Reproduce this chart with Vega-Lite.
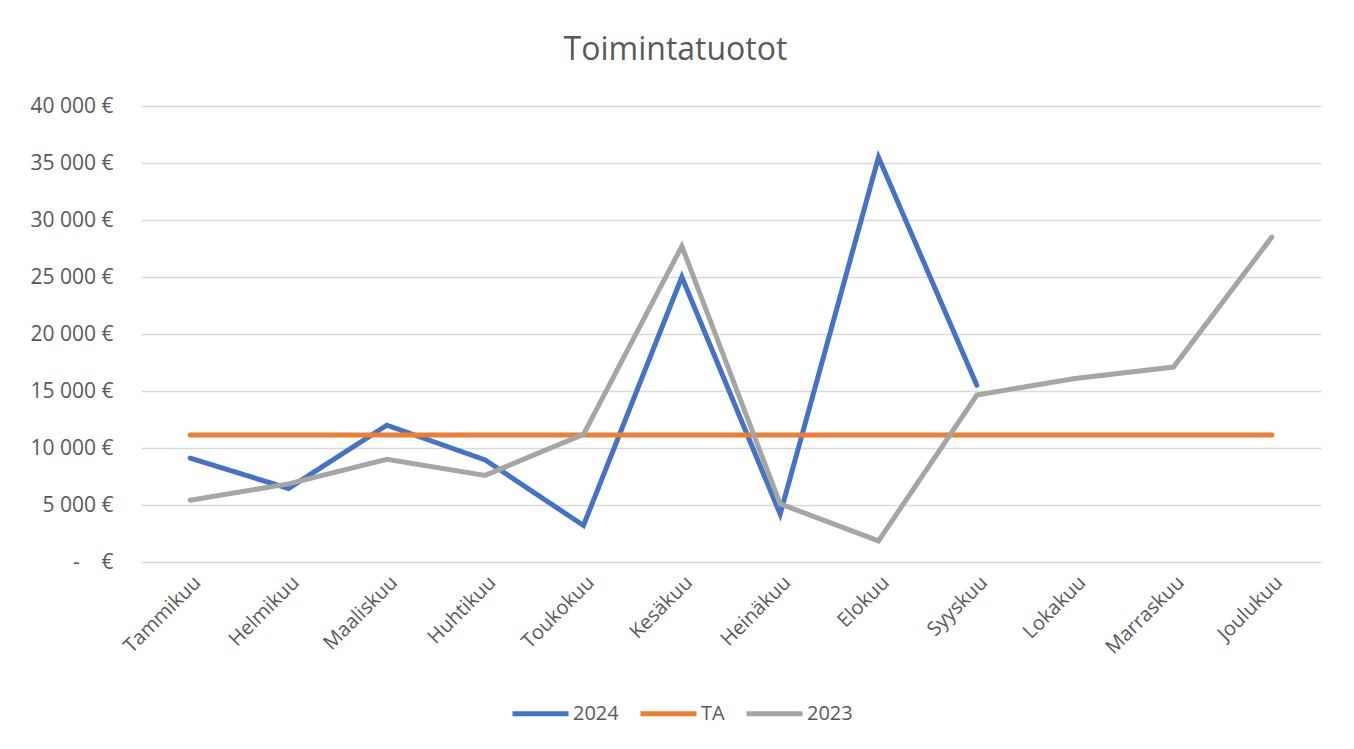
{
  "$schema": "https://vega.github.io/schema/vega-lite/v6.json",
  "autosize": "none",
  "width": 1180,
  "height": 456,
  "padding": {"left": 141, "top": 106, "right": 33, "bottom": 187},
  "background": "white",
  "title": {
    "text": "Toimintatuotot",
    "anchor": "middle",
    "frame": "bounds",
    "fontSize": 32,
    "font": "Open Sans",
    "fontWeight": "normal",
    "color": "#595959",
    "offset": 28
  },
  "data": {
    "values": [
      {"month": "Tammikuu", "series": "2024", "value": 9120},
      {"month": "Helmikuu", "series": "2024", "value": 6450},
      {"month": "Maaliskuu", "series": "2024", "value": 12000},
      {"month": "Huhtikuu", "series": "2024", "value": 8950},
      {"month": "Toukokuu", "series": "2024", "value": 3200},
      {"month": "Kesäkuu", "series": "2024", "value": 25000},
      {"month": "Heinäkuu", "series": "2024", "value": 4200},
      {"month": "Elokuu", "series": "2024", "value": 35500},
      {"month": "Syyskuu", "series": "2024", "value": 15500},
      {"month": "Tammikuu", "series": "TA", "value": 11150},
      {"month": "Helmikuu", "series": "TA", "value": 11150},
      {"month": "Maaliskuu", "series": "TA", "value": 11150},
      {"month": "Huhtikuu", "series": "TA", "value": 11150},
      {"month": "Toukokuu", "series": "TA", "value": 11150},
      {"month": "Kesäkuu", "series": "TA", "value": 11150},
      {"month": "Heinäkuu", "series": "TA", "value": 11150},
      {"month": "Elokuu", "series": "TA", "value": 11150},
      {"month": "Syyskuu", "series": "TA", "value": 11150},
      {"month": "Lokakuu", "series": "TA", "value": 11150},
      {"month": "Marraskuu", "series": "TA", "value": 11150},
      {"month": "Joulukuu", "series": "TA", "value": 11150},
      {"month": "Tammikuu", "series": "2023", "value": 5420},
      {"month": "Helmikuu", "series": "2023", "value": 6850},
      {"month": "Maaliskuu", "series": "2023", "value": 9000},
      {"month": "Huhtikuu", "series": "2023", "value": 7600},
      {"month": "Toukokuu", "series": "2023", "value": 11200},
      {"month": "Kesäkuu", "series": "2023", "value": 27700},
      {"month": "Heinäkuu", "series": "2023", "value": 5100},
      {"month": "Elokuu", "series": "2023", "value": 1850},
      {"month": "Syyskuu", "series": "2023", "value": 14650},
      {"month": "Lokakuu", "series": "2023", "value": 16100},
      {"month": "Marraskuu", "series": "2023", "value": 17100},
      {"month": "Joulukuu", "series": "2023", "value": 28500}
    ]
  },
  "mark": {"type": "line", "strokeWidth": 5, "strokeCap": "round"},
  "encoding": {
    "x": {
      "field": "month",
      "type": "nominal",
      "sort": ["Tammikuu","Helmikuu","Maaliskuu","Huhtikuu","Toukokuu","Kesäkuu","Heinäkuu","Elokuu","Syyskuu","Lokakuu","Marraskuu","Joulukuu"],
      "scale": {"type": "point", "padding": 0.5},
      "axis": {
        "title": null,
        "labelAngle": -45,
        "labelFontSize": 20,
        "labelFont": "Open Sans",
        "labelColor": "#595959",
        "labelPadding": 10,
        "ticks": false,
        "domain": false,
        "grid": false
      }
    },
    "y": {
      "field": "value",
      "type": "quantitative",
      "scale": {"domain": [0, 40000], "nice": false},
      "axis": {
        "title": null,
        "values": [0, 5000, 10000, 15000, 20000, 25000, 30000, 35000, 40000],
        "labelExpr": "datum.value == 0 ? '-\u00a0\u00a0\u00a0\u00a0€' : replace(format(datum.value, ','), ',', '\u00a0') + '\u00a0€'",
        "labelFontSize": 21,
        "labelFont": "Open Sans",
        "labelColor": "#595959",
        "labelPadding": 28,
        "ticks": false,
        "domain": false,
        "grid": true,
        "gridColor": "#D9D9D9",
        "gridWidth": 1.5
      }
    },
    "color": {
      "field": "series",
      "type": "nominal",
      "scale": {"domain": ["2024", "TA", "2023"], "range": ["#4472C4", "#ED7D31", "#A5A5A5"]},
      "legend": {
        "title": null,
        "orient": "none",
        "direction": "horizontal",
        "legendX": 369,
        "legendY": 577,
        "symbolType": "stroke",
        "symbolSize": 3136,
        "symbolStrokeWidth": 5,
        "labelFontSize": 20,
        "labelFont": "Open Sans",
        "labelColor": "#595959",
        "labelOffset": 2,
        "columnPadding": 11
      }
    }
  },
  "config": {"view": {"stroke": null}}
}
